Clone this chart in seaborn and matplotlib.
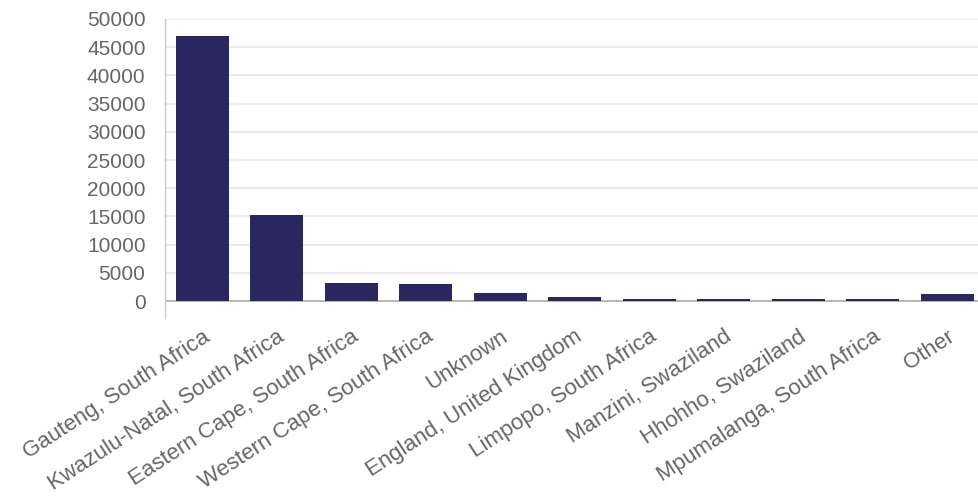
import matplotlib
matplotlib.use("Agg")
import matplotlib.pyplot as plt
import pandas as pd
import seaborn as sns

# 地区及人数
regions = ["Gauteng, South Africa", "Kwazulu-Natal, South Africa",
           "Eastern Cape, South Africa", "Western Cape, South Africa",
           "Unknown", "England, United Kingdom", "Limpopo, South Africa",
           "Manzini, Swaziland", "Hhohho, Swaziland",
           "Mpumalanga, South Africa", "Other"]
counts = [47050, 15330, 3250, 3080, 1490, 700, 330, 300, 290, 280, 1240]
y_ticks = [0, 5000, 10000, 15000, 20000, 25000, 30000, 35000, 40000, 45000, 50000]

df = pd.DataFrame({"region": regions, "count": counts})

sns.set_style("white")
plt.rcParams["font.family"] = ["Liberation Sans", "DejaVu Sans"]

fig = plt.figure(figsize=(9.79, 4.97), dpi=100)
ax = fig.add_axes([0.1685, 0.3602, 0.837, 0.6016])

sns.barplot(data=df, x="region", y="count", color="#2a2660", width=0.71,
            saturation=1, ax=ax, zorder=3, edgecolor="#2a2660", linewidth=0)

ax.set_xlim(-0.5, 10.5)
ax.set_ylim(-3000, 50000)
ax.set_yticks(y_ticks)
ax.set_yticklabels([str(v) for v in y_ticks])
ax.set_xlabel("")
ax.set_ylabel("")

for v in y_ticks:
    ax.axhline(v, color="#a8a8a8" if v == 0 else "#e6e6e6", lw=1.2, zorder=1)

for s in ["top", "right", "bottom"]:
    ax.spines[s].set_visible(False)
ax.spines["left"].set_color("#c8c8d8")
ax.spines["left"].set_linewidth(1.0)

ax.tick_params(axis="y", length=13, width=1.2, color="#e6e6e6", pad=1,
               labelsize=15, labelcolor="#666666")
ax.tick_params(axis="x", length=0, pad=6, labelsize=16, labelcolor="#666666")
plt.setp(ax.get_xticklabels(), rotation=33, ha="right", va="top",
         rotation_mode="anchor")

fig.savefig("out.png", dpi=100)
